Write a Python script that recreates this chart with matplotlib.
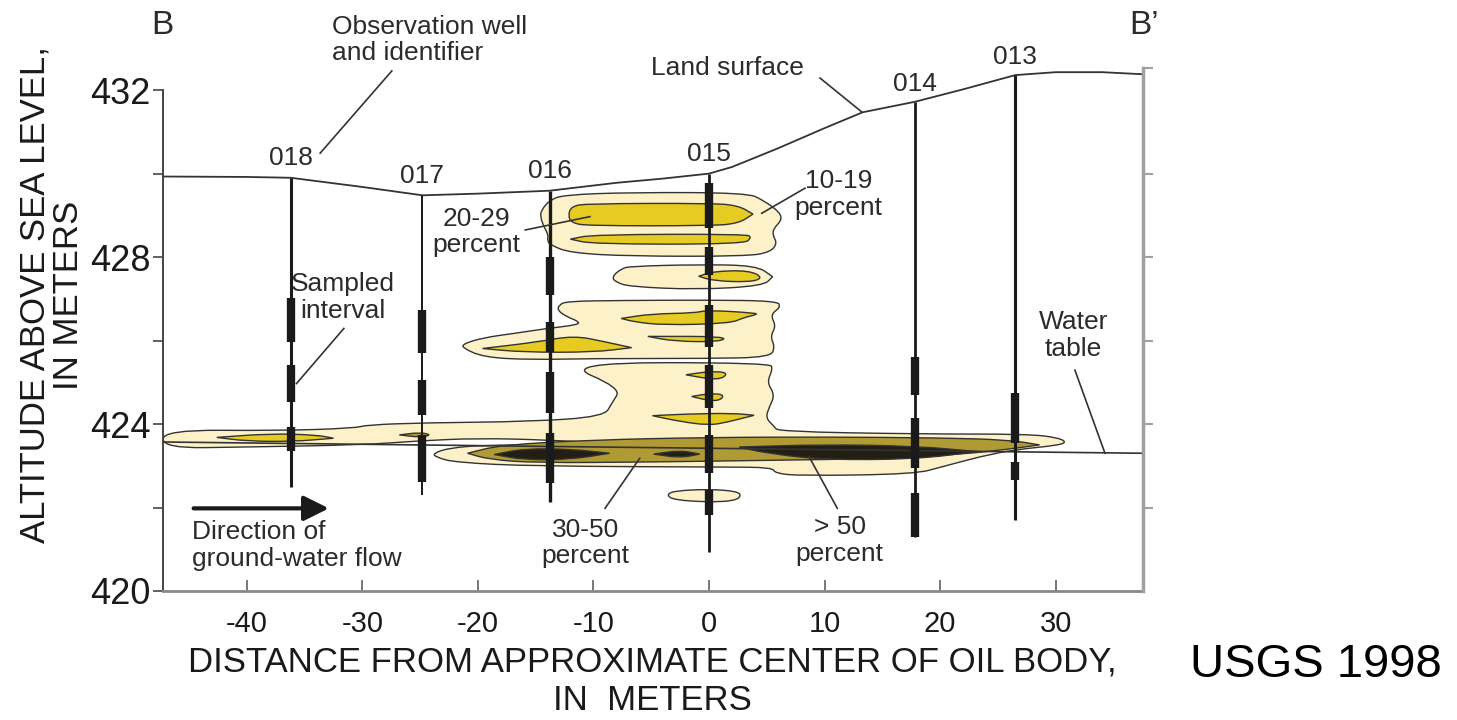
import numpy as np
import matplotlib
matplotlib.use('Agg')
import matplotlib.pyplot as plt
from matplotlib.path import Path
from matplotlib.patches import PathPatch

# Land surface and water table (distance from oil body centre, m ; altitude, m)
land_x = [-47.25, -40, -36.2, -30, -24.8, -20, -13.8, -8, -4, 0, 2, 6, 10, 13.3, 17.8, 22, 26.5, 30, 34, 37.55]
land_z = [429.93, 429.92, 429.9, 429.68, 429.48, 429.52, 429.59, 429.78, 429.88, 430.0, 430.16, 430.61,
          431.09, 431.47, 431.72, 432.02, 432.36, 432.43, 432.43, 432.38]
wt_x = [-47.25, 37.55]
wt_z = [423.57, 423.30]

# Observation wells
well_ids = ['018', '017', '016', '015', '014', '013']
well_x = [-36.2, -24.8, -13.8, 0.0, 17.8, 26.5]
well_top = [429.9, 429.48, 429.59, 430.0, 431.72, 432.36]
well_bottom = [422.5, 422.3, 422.14, 420.94, 421.30, 421.70]
well_lw = [2.2, 1.4, 2.4, 2.0, 2.0, 2.2]
sampled = [
    [(427.02, 425.96), (425.41, 424.53), (423.93, 423.35)],
    [(426.73, 425.70), (425.05, 424.22), (423.74, 422.61)],
    [(428.0, 427.09), (426.45, 425.73), (425.25, 424.26), (423.78, 422.59)],
    [(429.77, 428.69), (428.25, 427.57), (426.85, 425.85), (425.41, 424.38), (423.74, 422.82), (422.42, 421.82)],
    [(425.61, 424.69), (424.14, 422.94), (422.34, 421.30)],
    [(424.74, 423.54), (423.10, 422.66)],
]

# Oil saturation zones, outlines as (distance, altitude)
zone_10_19 = [
    [(-14.6, 428.97), (-14.5, 429.13), (-13.8, 429.36), (-12.6, 429.49), (-6.8, 429.55), (3.3, 429.54),
     (4.7, 429.36), (6.1, 429.08), (6.3, 428.89), (5.6, 428.69), (5.5, 428.53), (5.9, 428.33), (5.3, 428.12),
     (3.3, 428.02), (-6.8, 428.02), (-12.0, 428.1), (-13.75, 428.29), (-14.0, 428.41), (-13.9, 428.53),
     (-14.3, 428.73)],
    [(-8.4, 427.53), (-7.6, 427.72), (-6.8, 427.78), (-1.0, 427.82), (4.1, 427.8), (5.5, 427.53), (5.5, 427.53),
     (4.7, 427.31), (-1.0, 427.22), (-6.8, 427.29), (-8.1, 427.4)],
    [(-13.0, 426.85), (-12.3, 426.94), (-8, 426.96), (0, 426.97), (5.9, 426.95), (6.2, 426.8), (5.3, 426.62),
     (5.8, 426.35), (5.3, 426.1), (5.7, 425.85), (5.3, 425.6), (0, 425.57), (-10, 425.57), (-15.5, 425.54),
     (-19.5, 425.6), (-21.3, 425.82), (-21.3, 425.92), (-19.5, 426.07), (-16.9, 426.17), (-14.0, 426.29),
     (-11.3, 426.38), (-11.3, 426.46), (-12.3, 426.57), (-13.1, 426.72)],
    [(-47.25, 423.86), (-37.3, 423.84), (-30.7, 423.9), (-29.6, 423.98), (-24.6, 424.03), (-15.3, 424.06),
     (-9.1, 424.18), (-8.4, 424.5), (-7.6, 424.86), (-12.8, 425.47), (5.3, 425.47), (5.5, 425.3), (5.0, 425.0),
     (5.7, 424.7), (5.2, 424.4), (4.9, 424.15), (5.6, 423.95), (6.0, 423.82), (18.3, 423.76), (27.6, 423.76),
     (30.3, 423.67), (31.0, 423.54), (29.2, 423.46), (27.6, 423.42), (24.6, 423.3), (20.2, 422.98),
     (17.8, 422.8), (7.9, 422.76), (5.7, 422.82), (5.5, 422.96), (1.3, 422.97), (-15.3, 422.99),
     (-21.9, 423.08), (-23.6, 423.2), (-23.9, 423.3), (-22.4, 423.43), (-19.6, 423.49), (-14.2, 423.51),
     (-8.5, 423.53), (-14, 423.62), (-20, 423.66), (-25, 423.6), (-30, 423.5), (-40, 423.45),
     (-47.25, 423.42)],
    [(-3.7, 422.3), (-3.0, 422.4), (0, 422.44), (2.4, 422.39), (2.8, 422.28), (2.2, 422.16), (0, 422.13),
     (-3.0, 422.18)],
]
zone_20_29 = [
    [(-12.2, 429.0), (-11.9, 429.22), (-10.5, 429.28), (0, 429.29), (2.5, 429.24), (3.8, 429.03), (3.8, 429.03),
     (2.5, 428.8), (0, 428.75), (-10.5, 428.75), (-11.9, 428.82)],
    [(-12.0, 428.43), (-12.0, 428.43), (-10, 428.54), (3.2, 428.55), (3.7, 428.47), (3.0, 428.31), (-10, 428.31)],
    [(-0.9, 427.54), (-0.9, 427.54), (0.4, 427.66), (3.5, 427.68), (4.7, 427.5), (3.5, 427.4), (0.4, 427.43)],
    [(-19.6, 425.81), (-19.6, 425.81), (-15, 425.96), (-11.7, 426.12), (-9, 425.97), (-6.7, 425.83),
     (-6.7, 425.83), (-10, 425.72), (-16, 425.72)],
    [(-7.6, 426.53), (-7.6, 426.53), (-5, 426.64), (-1.2, 426.66), (-0.2, 426.73), (4.1, 426.66), (4.1, 426.62),
     (3, 426.55), (1.8, 426.41), (-4, 426.37), (-6.5, 426.45)],
    [(-5.3, 426.1), (-5.3, 426.1), (1.5, 426.1), (1.0, 425.97), (-3, 425.98)],
    [(-2.0, 425.18), (-2.0, 425.18), (0, 425.26), (1.6, 425.24), (1.2, 425.09), (0, 425.08)],
    [(-1.5, 424.66), (-1.5, 424.66), (0, 424.73), (1.3, 424.71), (1.0, 424.57), (0, 424.56)],
    [(-4.9, 424.2), (-4.9, 424.2), (-2, 424.24), (2, 424.26), (3.9, 424.21), (3.9, 424.21), (1.5, 424.04),
     (0, 423.97), (-2.5, 424.06)],
    [(-42.6, 423.68), (-42.6, 423.68), (-38, 423.77), (-34, 423.74), (-32.5, 423.66), (-32.5, 423.66),
     (-36, 423.58), (-40, 423.59)],
]
zone_30_50 = [
    [(-20.9, 423.3), (-20.9, 423.3), (-18, 423.5), (-10, 423.62), (0, 423.68), (10, 423.69), (20, 423.67),
     (26, 423.62), (28.6, 423.5), (28.6, 423.5), (26, 423.4), (22, 423.28), (15, 423.17), (5, 423.13),
     (-5, 423.09), (-15, 423.07), (-19, 423.15)],
    [(-26.8, 423.74), (-26.8, 423.74), (-25, 423.8), (-24.0, 423.74), (-25, 423.68)],
]
zone_gt_50 = [
    [(-18.6, 423.27), (-18.6, 423.27), (-16, 423.41), (-12, 423.4), (-8.6, 423.3), (-8.6, 423.3),
     (-12, 423.15), (-16, 423.14)],
    [(-4.8, 423.28), (-4.8, 423.28), (-2.5, 423.37), (-0.8, 423.28), (-0.8, 423.28), (-2.5, 423.19)],
    [(2.6, 423.45), (2.6, 423.45), (10, 423.51), (18, 423.47), (23.2, 423.34), (23.2, 423.34), (18, 423.16),
     (10, 423.14), (5, 423.3)],
]
zone_colors = {'10-19': '#fcf1c9', '20-29': '#e5cb22', '30-50': '#b09a34', '>50': '#221e14'}


def smooth_path(pts):
    p = np.asarray(pts, float)
    mids = (p + np.roll(p, -1, axis=0)) / 2
    verts = [mids[-1]]
    codes = [Path.MOVETO]
    for i in range(len(p)):
        verts += [p[i], mids[i]]
        codes += [Path.CURVE3, Path.CURVE3]
    verts.append(mids[-1])
    codes.append(Path.CLOSEPOLY)
    return Path(verts, codes)


fig = plt.figure(figsize=(14.57, 7.2), dpi=100)
ax = fig.add_axes([163 / 1457, 1 - 591 / 720, 980 / 1457, 523 / 720])
ax.set_xlim(-47.25, 37.55)
ax.set_ylim(420, 432.53)

font = ['Liberation Sans', 'DejaVu Sans']
ink = '#2b2b2b'

for key, zones, z in [('10-19', zone_10_19, 1), ('20-29', zone_20_29, 2),
                      ('30-50', zone_30_50, 3), ('>50', zone_gt_50, 4)]:
    for pts in zones:
        ax.add_patch(PathPatch(smooth_path(pts), facecolor=zone_colors[key], edgecolor='#333333',
                               lw=1.0, zorder=z))

# land surface and water table
ax.plot(land_x, land_z, color='#333333', lw=1.3, zorder=5)
ax.plot(wt_x, wt_z, color='#333333', lw=1.2, zorder=5)

# wells with sampled intervals
for i, x in enumerate(well_x):
    ax.plot([x, x], [well_top[i], well_bottom[i]], color='#1a1a1a', lw=well_lw[i], zorder=6,
            solid_capstyle='butt')
    for top, bot in sampled[i]:
        ax.plot([x, x], [top, bot], color='#1a1a1a', lw=6.0, zorder=7, solid_capstyle='butt')
    dy = 0.47 if i not in (4, 5) else 0.43
    ax.text(x, well_top[i] + dy, well_ids[i], ha='center', va='center', fontsize=19,
            family=font, color=ink)

# leader lines from labels
leaders = [((-33.65, 430.49), (-27.45, 432.46)),
           ((9.6, 432.29), (13.2, 431.48)),
           ((8.3, 429.65), (4.56, 429.05)),
           ((-15.9, 428.65), (-10.3, 428.97)),
           ((-31.6, 426.29), (-35.7, 424.97)),
           ((-9.0, 421.98), (-6.0, 423.18)),
           ((11.1, 421.98), (8.65, 423.22)),
           ((31.66, 425.29), (34.26, 423.30))]
for (x0, y0), (x1, y1) in leaders:
    ax.plot([x0, x1], [y0, y1], color='#333333', lw=1.2, zorder=8)

notes = [(-32.6, 433.2, 'Observation well\nand identifier', 'left'),
         (1.6, 432.53, 'Land surface', 'center'),
         (11.2, 429.5, '10-19\npercent', 'center'),
         (-20.1, 428.6, '20-29\npercent', 'center'),
         (-31.7, 427.04, 'Sampled\ninterval', 'center'),
         (31.5, 426.13, 'Water\ntable', 'center'),
         (-44.7, 421.1, 'Direction of\nground-water flow', 'left'),
         (-10.7, 421.15, '30-50\npercent', 'center'),
         (11.3, 421.2, '> 50\npercent', 'center')]
for x, y, s, ha in notes:
    ax.text(x, y, s, ha=ha, va='center', fontsize=19, family=font, color=ink, linespacing=1.15,
            zorder=9)

ax.annotate('', xy=(-32.9, 421.98), xytext=(-44.6, 421.98),
            arrowprops=dict(arrowstyle='-|>', lw=3, color='#1a1a1a', mutation_scale=38,
                            shrinkA=0, shrinkB=0))

ax.text(-48.3, 433.55, 'B', ha='left', va='center', fontsize=24, family=font, color=ink)
ax.text(36.4, 433.55, "B\u2019", ha='left', va='center', fontsize=24, family=font, color=ink)

# axes styling
for s in ['top', 'right']:
    ax.spines[s].set_visible(False)
ax.spines['left'].set_bounds(420, 432)
ax.spines['left'].set_color('#444444')
ax.spines['left'].set_linewidth(1.4)
ax.spines['bottom'].set_color('#888888')
ax.spines['bottom'].set_linewidth(2)

ax.set_yticks([420, 422, 424, 426, 428, 430, 432])
ax.set_yticklabels(['420', '', '424', '', '428', '', '432'], family=font, fontsize=26)
ax.tick_params(axis='y', direction='out', length=7, width=1.3, color='#555555', pad=2, labelcolor='#1a1a1a')

x_ticks = [-40, -30, -20, -10, 0, 10, 20, 30]
ax.set_xticks(x_ticks)
ax.set_xticklabels([str(t) for t in x_ticks], family=font, fontsize=21)
ax.tick_params(axis='x', direction='in', length=8, width=1.4, color='#777777', pad=14, labelcolor='#1a1a1a')

ax2 = ax.twinx()
ax2.set_ylim(ax.get_ylim())
for s in ['top', 'left', 'bottom']:
    ax2.spines[s].set_visible(False)
ax2.spines['right'].set_color('#a0a0a0')
ax2.spines['right'].set_linewidth(2.5)
ax2.set_yticks([422, 424, 426, 428, 430, 432.53])
ax2.set_yticklabels([])
ax2.tick_params(axis='y', direction='out', length=7, width=1.5, color='#a0a0a0')

fig.text(35 / 1457, 1 - 295 / 720, 'ALTITUDE ABOVE SEA LEVEL,', rotation=90, ha='center', va='center',
         fontsize=25, family=font, color='#1a1a1a')
fig.text(68 / 1457, 1 - 295 / 720, 'IN METERS', rotation=90, ha='center', va='center',
         fontsize=25, family=font, color='#1a1a1a')
fig.text(652 / 1457, 1 - 662 / 720, 'DISTANCE FROM APPROXIMATE CENTER OF OIL BODY,', ha='center',
         va='center', fontsize=25, family=font, color='#1a1a1a')
fig.text(652 / 1457, 1 - 701 / 720, 'IN  METERS', ha='center', va='center',
         fontsize=25, family=font, color='#1a1a1a')
fig.text(1316 / 1457, 1 - 665 / 720, 'USGS 1998', ha='center', va='center', fontsize=34, family=font,
         color='black')

fig.savefig('out.png', dpi=100)
